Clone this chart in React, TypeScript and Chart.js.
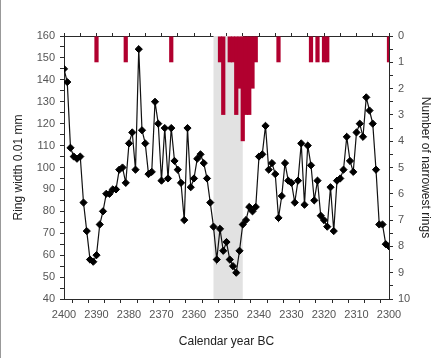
import { useEffect, useRef } from 'react';
import { Chart, registerables } from 'chart.js';

Chart.register(...registerables);

// Calendar years BC (x categories)
const years = [
  2400, 2399, 2398, 2397, 2396, 2395, 2394, 2393, 2392, 2391,
  2390, 2389, 2388, 2387, 2386, 2385, 2384, 2383, 2382, 2381,
  2380, 2379, 2378, 2377, 2376, 2375, 2374, 2373, 2372, 2371,
  2370, 2369, 2368, 2367, 2366, 2365, 2364, 2363, 2362, 2361,
  2360, 2359, 2358, 2357, 2356, 2355, 2354, 2353, 2352, 2351,
  2350, 2349, 2348, 2347, 2346, 2345, 2344, 2343, 2342, 2341,
  2340, 2339, 2338, 2337, 2336, 2335, 2334, 2333, 2332, 2331,
  2330, 2329, 2328, 2327, 2326, 2325, 2324, 2323, 2322, 2321,
  2320, 2319, 2318, 2317, 2316, 2315, 2314, 2313, 2312, 2311,
  2310, 2309, 2308, 2307, 2306, 2305, 2304, 2303, 2302, 2301,
  2300,
];

// Ring width (0.01 mm), one value per year above
const ringWidth = [
  145, 139, 109, 105, 104, 105, 84, 71, 58, 57,
  60, 74, 80, 88, 88, 90, 90, 99, 100, 93,
  111, 116, 99, 154, 117, 111, 97, 98, 130, 120,
  94, 118, 95, 118, 103, 99, 93, 76, 118, 91,
  95, 104, 106, 102, 95, 84, 73, 58, 72, 62,
  66, 58, 55, 52, 62, 74, 76, 82, 80, 82,
  105, 106, 119, 99, 102, 97, 77, 87, 102, 94,
  93, 84, 94, 111, 83, 110, 101, 85, 94, 78,
  76, 73, 91, 71, 94, 95, 99, 114, 103, 98,
  116, 120, 114, 132, 126, 120, 99, 74, 74, 65,
  64,
];

// Number of narrowest rings
const narrowYears = [2390, 2381, 2367, 2352, 2351, 2349, 2348, 2347, 2346, 2345, 2344, 2343, 2342, 2341, 2334, 2324, 2322, 2320, 2319, 2300];
const narrowCounts = [1, 1, 1, 1, 3, 1, 1, 3, 2, 4, 3, 3, 2, 1, 1, 1, 1, 1, 1, 1];

// Shaded period (years BC)
const shadeRange = [2354, 2345];

// Axis ranges / labels
const xRange = [2300, 2400];
const leftRange = [40, 160];
const rightRange = [0, 10];

const TICK_FONT = { family: "'Liberation Sans', Arial, sans-serif", size: 11 };
const TITLE_FONT = { family: "'Liberation Sans Narrow', 'Liberation Sans', Arial, sans-serif", size: 12 };
const AXIS_COLOR = '#2a2a2a';
const TICK_COLOR = '#555';
const TITLE_COLOR = '#222';
const RED = '#b1002f';

const W = 440;
const H = 358;
const AREA = { left: 64, right: 389, top: 36, bottom: 299 };

const shadePlugin = {
  id: 'shade',
  beforeDatasetsDraw(chart: any) {
    const { ctx, chartArea, scales } = chart;
    const a = scales.x.getPixelForValue(shadeRange[0]);
    const b = scales.x.getPixelForValue(shadeRange[1]);
    ctx.save();
    ctx.fillStyle = '#e2e2e2';
    ctx.fillRect(Math.min(a, b), chartArea.top, Math.abs(b - a), chartArea.bottom - chartArea.top);
    ctx.restore();
  },
};

export default function App() {
  const canvasRef = useRef<HTMLCanvasElement | null>(null);

  useEffect(() => {
    const canvas = canvasRef.current;
    if (!canvas) return;

    const lineData = years.map((y, i) => ({ x: y, y: ringWidth[i] }));
    const barData = narrowYears.map((y, i) => ({ x: y, y: narrowCounts[i] }));

    const baseGrid = {
      drawOnChartArea: false,
      drawTicks: true,
      tickLength: 4,
      color: AXIS_COLOR,
      lineWidth: 1,
    };
    const border = { display: true, color: AXIS_COLOR, width: 1 };

    const chart = new Chart(canvas, {
      type: 'line',
      data: {
        datasets: [
          {
            type: 'line',
            label: 'Ring width',
            data: lineData,
            xAxisID: 'x',
            yAxisID: 'y',
            borderColor: '#111',
            borderWidth: 1.2,
            pointStyle: 'rectRot',
            pointRadius: 3.6,
            pointBackgroundColor: '#000',
            pointBorderColor: '#000',
            pointBorderWidth: 1,
            tension: 0,
            order: 0,
          } as any,
          {
            type: 'bar',
            label: 'Narrowest rings',
            data: barData,
            xAxisID: 'x',
            yAxisID: 'y1',
            backgroundColor: RED,
            borderWidth: 0,
            barPercentage: 1.3,
            categoryPercentage: 1,
            clip: 0,
            order: 1,
          } as any,
        ],
      },
      options: {
        animation: false,
        responsive: true,
        maintainAspectRatio: false,
        layout: { padding: 0 },
        plugins: {
          legend: { display: false },
          tooltip: { enabled: false },
        },
        scales: {
          x: {
            type: 'linear',
            position: 'bottom',
            min: xRange[0],
            max: xRange[1],
            reverse: true,
            offset: false,
            grid: baseGrid,
            border,
            ticks: {
              stepSize: 5,
              autoSkip: false,
              maxRotation: 0,
              padding: 5,
              color: TICK_COLOR,
              font: TICK_FONT,
              callback: (v: any) => (Number(v) % 10 === 0 ? String(v) : ''),
            },
            title: {
              display: true,
              text: 'Calendar year BC',
              color: TITLE_COLOR,
              font: TITLE_FONT,
              padding: { top: 0, bottom: 9 },
            },
            afterFit: (s: any) => {
              s.height = H - AREA.bottom;
            },
          },
          x2: {
            type: 'linear',
            position: 'top',
            min: xRange[0],
            max: xRange[1],
            reverse: true,
            offset: false,
            grid: { ...baseGrid, tickLength: 3 },
            border,
            ticks: {
              stepSize: 5,
              autoSkip: false,
              display: false,
            },
            afterFit: (s: any) => {
              s.height = AREA.top;
            },
          },
          y: {
            type: 'linear',
            position: 'left',
            min: leftRange[0],
            max: leftRange[1],
            grid: baseGrid,
            border,
            ticks: {
              stepSize: 5,
              autoSkip: false,
              padding: 5,
              color: TICK_COLOR,
              font: TICK_FONT,
              callback: (v: any) => (Number(v) % 10 === 0 ? String(v) : ''),
            },
            title: {
              display: true,
              text: 'Ring width 0.01 mm',
              color: TITLE_COLOR,
              font: TITLE_FONT,
              padding: { top: 11, bottom: 0 },
            },
            afterFit: (s: any) => {
              s.width = AREA.left;
            },
          },
          y1: {
            type: 'linear',
            position: 'right',
            min: rightRange[0],
            max: rightRange[1],
            reverse: true,
            grid: baseGrid,
            border,
            ticks: {
              stepSize: 0.5,
              autoSkip: false,
              padding: 5,
              color: TICK_COLOR,
              font: TICK_FONT,
              callback: (v: any) => (Number.isInteger(Number(v)) ? String(v) : ''),
            },
            title: {
              display: true,
              text: 'Number of narrowest rings',
              color: TITLE_COLOR,
              font: TITLE_FONT,
              padding: { top: 7, bottom: 0 },
            },
            afterFit: (s: any) => {
              s.width = W - AREA.right;
            },
          },
        },
      } as any,
      plugins: [shadePlugin],
    });

    return () => chart.destroy();
  }, []);

  return (
    <div style={{ position: 'absolute', left: 0, top: 0, width: W, height: H, background: '#fff' }}>
      <canvas ref={canvasRef} />
      <div style={{ position: 'absolute', left: 0, top: 0, width: 1, height: H, background: '#999' }} />
    </div>
  );
}
